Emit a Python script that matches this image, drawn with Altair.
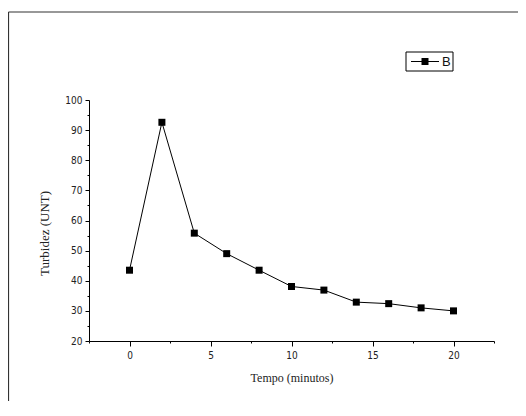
import altair as alt
import pandas as pd

tempo = [0, 2, 4, 6, 8, 10, 12, 14, 16, 18, 20]
turbidez = [43.5, 92.6, 55.8, 49.0, 43.5, 38.1, 36.9, 32.9, 32.4, 31.0, 30.0]
serie_nome = "B"

x_ticks = [-2.5, 0, 2.5, 5, 7.5, 10, 12.5, 15, 17.5, 20, 22.5]
y_ticks = [20, 25, 30, 35, 40, 45, 50, 55, 60, 65, 70, 75, 80, 85, 90, 95, 100]

df = pd.DataFrame({"tempo": tempo, "turbidez": turbidez})
leg = pd.DataFrame({"serie": [serie_nome]})

W, H = 405, 241
label_font = "Liberation Sans Narrow, DejaVu Sans Condensed, Arial Narrow, sans-serif"
title_font = "Liberation Serif, Times New Roman, serif"

x_enc = alt.X(
    "tempo:Q",
    scale=alt.Scale(domain=[-2.5, 22.5], nice=False, zero=False),
    axis=alt.Axis(
        title="Tempo (minutos)",
        values=x_ticks,
        labelExpr="(datum.value % 5 == 0 && datum.value >= 0) ? datum.label : ''",
        tickSize={"condition": {"test": "datum.value % 5 == 0", "value": 5}, "value": 2},
        grid=False,
        domainColor="black",
        tickColor="black",
        labelFont=label_font,
        labelFontSize=10,
        labelColor="#222",
        labelPadding=4,
        titleFont=title_font,
        titleFontSize=12,
        titleFontWeight="normal",
        titleColor="#222",
        titleY=36,
        titleBaseline="middle",
    ),
)
y_enc = alt.Y(
    "turbidez:Q",
    scale=alt.Scale(domain=[20, 100], nice=False, zero=False),
    axis=alt.Axis(
        title="Turbidez (UNT)",
        values=y_ticks,
        labelExpr="(datum.value % 10 == 0) ? datum.label : ''",
        tickSize={"condition": {"test": "datum.value % 10 == 0", "value": 4}, "value": 2},
        grid=False,
        domainColor="black",
        tickColor="black",
        labelFont=label_font,
        labelFontSize=10,
        labelColor="#222",
        labelPadding=3,
        titleFont=title_font,
        titleFontSize=13,
        titleFontWeight="normal",
        titleColor="#222",
        titleX=-45,
        titleY=133,
        titleBaseline="middle",
    ),
)

line = alt.Chart(df).mark_line(color="black", strokeWidth=1).encode(x=x_enc, y=y_enc)
pts = alt.Chart(df).mark_square(size=49, opacity=1, filled=True, color="black").encode(x=x_enc, y=y_enc)

frame_left = alt.Chart(leg).mark_rule(color="#333", strokeWidth=1.2).encode(
    x=alt.value(-80.5), y=alt.value(-88), y2=alt.value(400)
)
frame_top = alt.Chart(leg).mark_rule(color="#333", strokeWidth=1.2).encode(
    x=alt.value(-80.5), x2=alt.value(460), y=alt.value(-88)
)

# legend (drawn manually)
leg_box = alt.Chart(leg).mark_rect(fill="white", stroke="black", strokeWidth=1).encode(
    x=alt.value(317), x2=alt.value(364), y=alt.value(-48), y2=alt.value(-29)
)
leg_line = alt.Chart(leg).mark_rule(color="black", strokeWidth=1).encode(
    x=alt.value(322), x2=alt.value(350), y=alt.value(-38.5)
)
leg_sym = alt.Chart(leg).mark_square(size=49, opacity=1, filled=True, color="black").encode(
    x=alt.value(336), y=alt.value(-38.5)
)
leg_txt = alt.Chart(leg).mark_text(
    align="left", baseline="middle", font="Liberation Sans, Arial, sans-serif", fontSize=13, color="#111"
).encode(x=alt.value(353), y=alt.value(-38), text="serie:N")

chart = (
    alt.layer(frame_left, frame_top, line, pts, leg_box, leg_line, leg_sym, leg_txt)
    .properties(
        width=W,
        height=H,
        autosize=alt.AutoSizeParams(type="none"),
        padding={"left": 81, "top": 92, "right": 24, "bottom": 60},
        background="white",
    )
    .configure_view(stroke=None)
)

chart.save("out.html", embed_options={"renderer": "svg", "actions": False})
